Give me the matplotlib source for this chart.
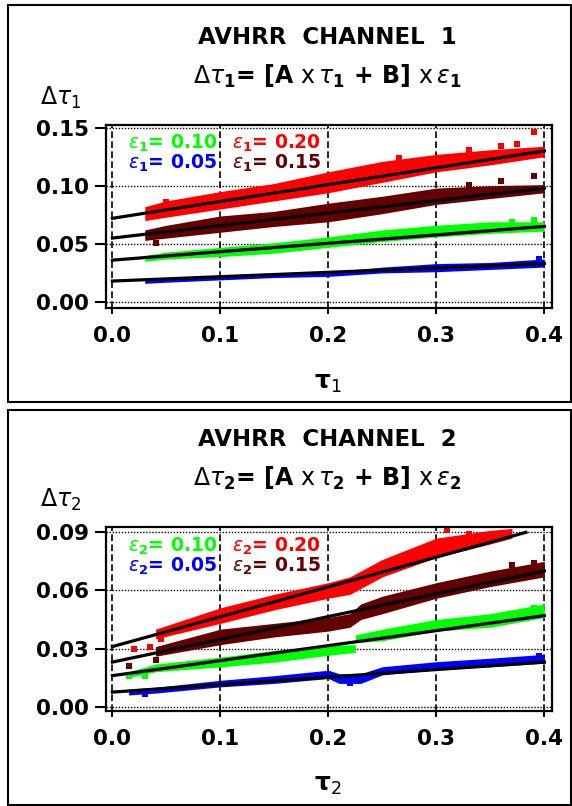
import numpy as np
import matplotlib.pyplot as plt
from matplotlib.patches import Rectangle

plt.rcParams['font.family'] = ['DejaVu Sans']
plt.rcParams['mathtext.fontset'] = 'dejavusans'

# colours of the four error levels
col_005 = '#0000ff'
col_010 = '#00ff00'
col_015 = '#640000'
col_020 = '#ff0000'

# ---------------- channel 1 ----------------
ch1_x = [0.03, 0.05, 0.10, 0.15, 0.20, 0.25, 0.30, 0.35, 0.40]
ch1_red_lo = [0.070, 0.073, 0.080, 0.087, 0.094, 0.103, 0.112, 0.118, 0.125]
ch1_red_hi = [0.082, 0.087, 0.095, 0.102, 0.112, 0.121, 0.127, 0.131, 0.134]
ch1_dred_lo = [0.053, 0.055, 0.060, 0.065, 0.069, 0.076, 0.084, 0.089, 0.094]
ch1_dred_hi = [0.062, 0.066, 0.074, 0.078, 0.085, 0.091, 0.098, 0.100, 0.101]
ch1_green_lo = [0.035, 0.037, 0.039, 0.042, 0.047, 0.052, 0.056, 0.059, 0.061]
ch1_green_hi = [0.040, 0.043, 0.047, 0.051, 0.056, 0.062, 0.066, 0.069, 0.069]
ch1_blue_lo = [0.016, 0.017, 0.019, 0.021, 0.022, 0.025, 0.026, 0.028, 0.030]
ch1_blue_hi = [0.021, 0.021, 0.023, 0.025, 0.026, 0.030, 0.033, 0.034, 0.037]

# scattered points outside the dense bands
ch1_red_ox = [0.05, 0.265, 0.33, 0.36, 0.375, 0.39]
ch1_red_oy = [0.086, 0.124, 0.131, 0.134, 0.136, 0.1466]
ch1_dred_ox = [0.04, 0.33, 0.36, 0.39]
ch1_dred_oy = [0.051, 0.101, 0.104, 0.108]
ch1_green_ox = [0.37, 0.39]
ch1_green_oy = [0.069, 0.0705]
ch1_blue_ox = [0.395]
ch1_blue_oy = [0.037]

# fit lines (end points)
ch1_fit_x = [0.0, 0.40]
ch1_fit_red = [0.072, 0.130]
ch1_fit_dred = [0.055, 0.098]
ch1_fit_green = [0.036, 0.065]
ch1_fit_blue = [0.018, 0.033]

# ---------------- channel 2 ----------------
ch2_red_x = [0.04, 0.10, 0.15, 0.20, 0.22, 0.25, 0.30, 0.35, 0.37]
ch2_red_lo = [0.035, 0.043, 0.050, 0.056, 0.058, 0.067, 0.077, 0.084, 0.087]
ch2_red_hi = [0.040, 0.051, 0.058, 0.064, 0.067, 0.076, 0.087, 0.091, 0.092]
ch2_dred_x = [0.04, 0.10, 0.15, 0.20, 0.22, 0.23, 0.25, 0.30, 0.35, 0.40]
ch2_dred_lo = [0.026, 0.032, 0.036, 0.039, 0.041, 0.045, 0.048, 0.056, 0.062, 0.067]
ch2_dred_hi = [0.031, 0.040, 0.043, 0.046, 0.048, 0.053, 0.057, 0.064, 0.070, 0.075]
ch2_green_x = [0.015, 0.04, 0.10, 0.15, 0.20, 0.225, 0.225, 0.25, 0.30, 0.35, 0.40]
ch2_green_lo = [0.015, 0.018, 0.0205, 0.023, 0.0265, 0.028, 0.033, 0.034, 0.039, 0.041, 0.046]
ch2_green_hi = [0.018, 0.022, 0.0256, 0.029, 0.0317, 0.032, 0.037, 0.040, 0.045, 0.048, 0.053]
ch2_blue_x = [0.015, 0.04, 0.10, 0.15, 0.20, 0.21, 0.23, 0.25, 0.30, 0.35, 0.40]
ch2_blue_lo = [0.006, 0.007, 0.0102, 0.012, 0.0145, 0.012, 0.012, 0.0164, 0.019, 0.0206, 0.0224]
ch2_blue_hi = [0.009, 0.010, 0.0136, 0.016, 0.0188, 0.017, 0.017, 0.0206, 0.0232, 0.025, 0.027]

ch2_red_ox = [0.02, 0.035, 0.045, 0.31, 0.33]
ch2_red_oy = [0.030, 0.031, 0.035, 0.091, 0.089]
ch2_dred_ox = [0.015, 0.04, 0.37, 0.39]
ch2_dred_oy = [0.021, 0.024, 0.073, 0.074]
ch2_green_ox = [0.015, 0.03, 0.39]
ch2_green_oy = [0.016, 0.016, 0.051]
ch2_blue_ox = [0.03, 0.22, 0.395]
ch2_blue_oy = [0.0065, 0.012, 0.026]

ch2_fit_red_x = [0.0, 0.383]
ch2_fit_red = [0.031, 0.090]
ch2_fit_x = [0.0, 0.40]
ch2_fit_dred = [0.023, 0.070]
ch2_fit_green = [0.016, 0.047]
ch2_fit_blue = [0.0075, 0.023]

x_ticks = [0.0, 0.1, 0.2, 0.3, 0.4]
ch1_yticks = [0.00, 0.05, 0.10, 0.15]
ch2_yticks = [0.00, 0.03, 0.06, 0.09]


def draw_panel(ax, bands, outliers, fits, yticks, ylim, ch, legend_y):
    for xs, lo, hi, c in bands:
        ax.fill_between(xs, lo, hi, color=c, lw=0, zorder=2)
    for xs, ys, c in outliers:
        ax.scatter(xs, ys, s=14, marker='s', color=c, lw=0, zorder=2)
    for xs, ys in fits:
        ax.plot(xs, ys, color='k', lw=2.3, zorder=3)

    ax.set_xlim(-0.0061, 0.4069)
    ax.set_ylim(*ylim)
    ax.set_xticks(x_ticks)
    ax.set_xticklabels(['%.1f' % v for v in x_ticks])
    ax.set_yticks(yticks)
    ax.set_yticklabels(['%.2f' % v for v in yticks])
    ax.tick_params(axis='y', direction='out', length=8, width=1.5, pad=4,
                   labelsize=15.5)
    ax.tick_params(axis='x', direction='out', length=4, width=1.5, pad=9,
                   labelsize=15.5)
    for lab in ax.get_xticklabels() + ax.get_yticklabels():
        lab.set_fontweight('bold')
    ax.xaxis.grid(True, color='k', lw=1.2, linestyle=(0, (4, 2)))
    ax.yaxis.grid(True, color='k', lw=1.0, linestyle=(0, (1, 1.2)))
    ax.set_axisbelow(True)
    for sp in ax.spines.values():
        sp.set_linewidth(1.6)

    sub = r'$\varepsilon_{\mathbf{%d}}$' % ch
    y_top, y_bot = legend_y
    ax.text(0.0144, y_top, sub + '= 0.10', color=col_010, fontsize=13.5,
            fontweight='bold', va='baseline', ha='left', zorder=4)
    ax.text(0.0144, y_bot, sub + '= 0.05', color=col_005, fontsize=13.5,
            fontweight='bold', va='baseline', ha='left', zorder=4)
    ax.text(0.111, y_top, sub + '= 0.20', color=col_020, fontsize=13.5,
            fontweight='bold', va='baseline', ha='left', zorder=4)
    ax.text(0.111, y_bot, sub + '= 0.15', color=col_015, fontsize=13.5,
            fontweight='bold', va='baseline', ha='left', zorder=4)


fig = plt.figure(figsize=(5.72, 8.06), dpi=100)

# panel frames
for y0, h in [(1 - 402 / 806, 397 / 806), (1 - 805 / 806, 395 / 806)]:
    fig.patches.append(Rectangle((8 / 572, y0), 563 / 572, h, transform=fig.transFigure,
                                 fill=False, ec='k', lw=1.5))

ax1 = fig.add_axes([105.8 / 572, 1 - 308 / 806, 446 / 572, 183 / 806])
draw_panel(ax1,
           [(ch1_x, ch1_red_lo, ch1_red_hi, col_020),
            (ch1_x, ch1_dred_lo, ch1_dred_hi, col_015),
            (ch1_x, ch1_green_lo, ch1_green_hi, col_010),
            (ch1_x, ch1_blue_lo, ch1_blue_hi, col_005)],
           [(ch1_red_ox, ch1_red_oy, col_020),
            (ch1_dred_ox, ch1_dred_oy, col_015),
            (ch1_green_ox, ch1_green_oy, col_010),
            (ch1_blue_ox, ch1_blue_oy, col_005)],
           [(ch1_fit_x, ch1_fit_red), (ch1_fit_x, ch1_fit_dred),
            (ch1_fit_x, ch1_fit_green), (ch1_fit_x, ch1_fit_blue)],
           ch1_yticks, (-0.0052, 0.1523), 1, (0.1317, 0.115))

ax2 = fig.add_axes([105.8 / 572, 1 - 710.7 / 806, 446 / 572, 184 / 806])
draw_panel(ax2,
           [(ch2_red_x, ch2_red_lo, ch2_red_hi, col_020),
            (ch2_dred_x, ch2_dred_lo, ch2_dred_hi, col_015),
            (ch2_green_x, ch2_green_lo, ch2_green_hi, col_010),
            (ch2_blue_x, ch2_blue_lo, ch2_blue_hi, col_005)],
           [(ch2_red_ox, ch2_red_oy, col_020),
            (ch2_dred_ox, ch2_dred_oy, col_015),
            (ch2_green_ox, ch2_green_oy, col_010),
            (ch2_blue_ox, ch2_blue_oy, col_005)],
           [(ch2_fit_red_x, ch2_fit_red), (ch2_fit_x, ch2_fit_dred),
            (ch2_fit_x, ch2_fit_green), (ch2_fit_x, ch2_fit_blue)],
           ch2_yticks, (-0.0021, 0.0929), 2, (0.0798, 0.0695))

# titles and axis labels
for ch, dy in [(1, 0), (2, 402)]:
    fig.text(0.5717, 1 - (37 + dy) / 806, 'AVHRR  CHANNEL  %d' % ch, ha='center',
             va='center', fontsize=16.5, fontweight='bold')
    formula = (r'$\Delta\tau_{\mathbf{%d}}$= [A $\mathrm{x}\,\tau_{\mathbf{%d}}$ + B]'
               r' $\mathrm{x}\,\varepsilon_{\mathbf{%d}}$' % (ch, ch, ch))
    fig.text(0.5717, 1 - (76 + dy) / 806, formula, ha='center', va='center',
             fontsize=17, fontweight='bold')
    fig.text(0.1066, 1 - (98 + dy) / 806, r'$\Delta\tau_%d$' % ch, ha='center',
             va='center', fontsize=17)
    fig.text(0.5734, 1 - (383 + dy) / 806, r'$\mathbf{\tau}_%d$' % ch, ha='center',
             va='center', fontsize=18)

fig.savefig('out.png', dpi=100)
